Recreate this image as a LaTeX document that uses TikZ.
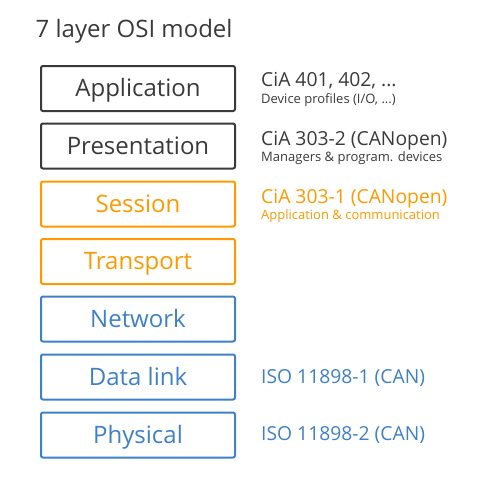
\documentclass[tikz,border=0pt]{standalone}
\usepackage{fontspec}
\setmainfont{Open Sans}
\definecolor{osidark}{HTML}{3A3A3A}
\definecolor{osiorange}{HTML}{FF9900}
\definecolor{osiblue}{HTML}{3F80C6}
\tikzset{
  layer/.style={draw, line width=2pt, rounded corners=2pt, minimum width=194pt,
    minimum height=45pt, inner sep=0pt, text height=18pt, text depth=1.6pt,
    font=\fontsize{24}{28}\selectfont},
  big/.style={anchor=base west, inner sep=0pt, font=\fontsize{19.3}{23}\selectfont},
  small/.style={anchor=base west, inner sep=0pt, font=\fontsize{13}{15}\selectfont}
}
\begin{document}
\begin{tikzpicture}[x=1pt, y=-1pt]
      \useasboundingbox (0, 0) rectangle (495, 493);

      \node[anchor=base west, inner sep=0pt, text=osidark, font=\fontsize{24}{28}\selectfont]
        at(35.5, 37.5)(title){7 layer OSI model};

      \node[layer, osidark] at(138, 88.5)(app){Application};
      \node[layer, osidark] at(138, 146)(pres){Presentation};
      \node[layer, osiorange] at(138, 204)(sess){Session};
      \node[layer, osiorange] at(138, 261.5)(trans){Transport};
      \node[layer, osiblue] at(138, 319)(net){Network};
      \node[layer, osiblue] at(138, 377)(link){Data link};
      \node[layer, osiblue] at(138, 435)(phys){Physical};

      \node[big, osidark] at(261, 86.7)(cia401){CiA 401, 402, ...};
      \node[small, osidark] at(261, 103.7)(profiles){Device profiles (I/O, ...)};
      \node[big, osidark] at(261, 145)(cia3032){CiA 303-2 (CANopen)};
      \node[small, osidark] at(261, 161.7)(managers){Managers \& program. devices};
      \node[big, osiorange] at(261, 203.3)(cia3031){CiA 303-1 (CANopen)};
      \node[small, osiorange] at(261, 219.3)(appcom){Application \& communication};
      \node[big, osiblue] at(261, 383.3)(iso1){ISO 11898-1 (CAN)};
      \node[big, osiblue] at(261, 440.7)(iso2){ISO 11898-2 (CAN)};
\end{tikzpicture}
\end{document}
